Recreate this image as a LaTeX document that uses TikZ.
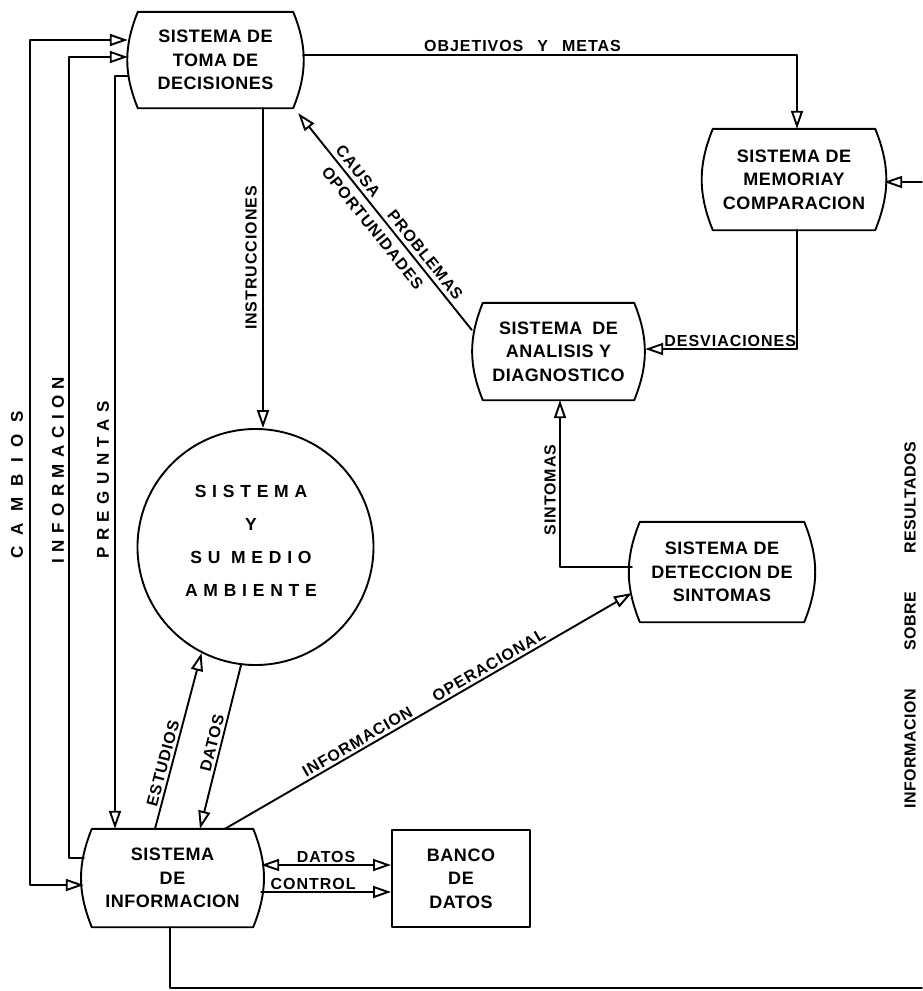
\documentclass[tikz,border=0pt]{standalone}
\usepackage{fontspec}
\setmainfont{Liberation Sans}
\newfontfamily\boxfont{Liberation Sans}[LetterSpace=3]
\newfontfamily\lblfont{Liberation Sans}[LetterSpace=6]
\newfontfamily\ringfont{Liberation Sans}[LetterSpace=33]
\newfontfamily\sidefont{Liberation Sans}[LetterSpace=38]
\newfontfamily\widefont{Liberation Sans}[LetterSpace=66]
\newfontfamily\rightfont{Liberation Sans}[LetterSpace=3]
\usetikzlibrary{arrows.meta}

\tikzset{
  conn/.style={line width=1.9pt, line cap=round, line join=round},
  tip/.tip={Triangle[open, length=18pt, width=12pt]},
  arr/.style={conn, -tip},
  arrboth/.style={conn, tip-tip},
  barrel/.style={rectangle, inner sep=0pt, align=center,
    font=\boxfont\bfseries\fontsize{18}{23.5}\selectfont},
  outline/.style={line width=1.9pt, line cap=round, line join=round},
  lbl/.style={font=\lblfont\bfseries\fontsize{16}{18}\selectfont, inner sep=2.5pt},
  sidelbl/.style={font=\sidefont\bfseries\fontsize{17}{18}\selectfont, rotate=90, inner sep=0pt},
}

% box with straight top and bottom and sides bulging outwards
\newcommand\barrelline[2]{%
  \draw[outline] ([xshift=#2]#1.north west) -- ([xshift=-#2]#1.north east)
    to[bend left=22] ([xshift=-#2]#1.south east) -- ([xshift=#2]#1.south west)
    to[bend left=22] ([xshift=#2]#1.north west) -- cycle;}

\begin{document}
\begin{tikzpicture}[x=1pt, y=-1pt]
\useasboundingbox (0,0) rectangle (922,991);

% ---- systems
\node[barrel, minimum width=175pt, minimum height=96pt] (toma) at (215.5,60)
  {SISTEMA DE\\TOMA DE\\DECISIONES};
\barrelline{toma}{10}

\node[barrel, minimum width=180pt, minimum height=101pt] (memoria) at (794,179.5)
  {SISTEMA DE\\MEMORIAY\\COMPARACION};
\barrelline{memoria}{9}

\node[barrel, minimum width=173pt, minimum height=97pt] (analisis) at (558.5,351.5)
  {SISTEMA\hspace{10pt}DE\\ANALISIS Y\\DIAGNOSTICO};
\barrelline{analisis}{11}

\node[barrel, minimum width=180pt, minimum height=100pt] (det) at (722,572)
  {SISTEMA DE\\DETECCION DE\\SINTOMAS};
\barrelline{det}{8}

\node[barrel, minimum width=177pt, minimum height=98pt] (info) at (172.5,878)
  {SISTEMA\\DE\\INFORMACION};
\barrelline{info}{8}

\node[barrel, draw, outline, minimum width=138pt, minimum height=97pt] (banco) at (461,878.5)
  {BANCO\\DE\\DATOS};

\node[circle, draw, outline, minimum size=236pt, inner sep=0pt] (circ) at (255.5,547) {};
\node[align=center, font=\ringfont\bfseries\fontsize{17.5}{33}\selectfont] (circtext)
  at (251,541) {SISTEMA\\Y\\SU MEDIO\\AMBIENTE};

% ---- free ends at the right border
\coordinate (rin) at (922,182);
\coordinate (rout) at (922,988);

% ---- flows
\draw[arr] ([yshift=5]toma.east) -| ([xshift=3]memoria.north)
  node[lbl, pos=0.222, above] {OBJETIVOS\hspace{14pt}Y\hspace{14pt}METAS};

\draw[arr] ([xshift=3]memoria.south) |- ([yshift=2.5]analisis.east)
  node[lbl, pos=0.72, above, inner sep=1.5pt] {DESVIACIONES};

\draw[arr] (rin) -- (rin -| memoria.east);
\draw[conn] ([xshift=-2.5]info.south) |- (rout);

\draw[arr] ([yshift=21.5]analisis.west) -- ([xshift=-5,yshift=-5]toma.south east)
  node[lbl, sloped, pos=0.465, above, inner sep=4pt] {CAUSA\hspace{22pt}PROBLEMAS}
  node[lbl, sloped, pos=0.51, below, inner sep=7pt] {OPORTUNIDADES};

\draw[arr] ([xshift=47.5]toma.south) -- ([xshift=47.5]toma.south |- circ.north);
\node[lbl, font=\lblfont\bfseries\fontsize{16}{18}\selectfont, rotate=90] at (251,258) {INSTRUCCIONES};

\draw[arr] ([xshift=-17.5]info.north) -- (circ.243)
  node[lbl, sloped, pos=0.36, above] {ESTUDIOS};
\draw[arr] (circ.263) -- ([xshift=27.5]info.north)
  node[lbl, sloped, pos=0.49, above] {DATOS};

\draw[arr] ([xshift=52.5]info.north) -- ([yshift=-21]det.west)
  node[lbl, sloped, pos=0.5, above] {INFORMACION\hspace{26pt}OPERACIONAL};

\draw[arr] ([yshift=5]det.west) -| ([xshift=1.5]analisis.south);
\node[lbl, rotate=90] at (550,490) {SINTOMAS};

\draw[arr] ([yshift=-16]toma.west) -| ([xshift=-57.5]info.north);
\node[sidelbl] at (103,480) {PREGUNTAS};

\draw[arr] ([yshift=20]info.west) -- ++(-15,0) |- ([yshift=3]toma.west);
\node[sidelbl] at (58,470) {INFORMACION};

\draw[arrboth] ([yshift=20]toma.west) -- ++(-98,0) |- ([yshift=-7]info.west);
\node[sidelbl, font=\widefont\bfseries\fontsize{17}{18}\selectfont] at (17,485) {CAMBIOS};

\draw[arrboth] ([yshift=13]info.east) -- ([yshift=13]info.east -| banco.west)
  node[lbl, midway, above, inner sep=1.5pt] {DATOS};
\draw[arr] ([yshift=-14]info.east) -- ([yshift=-14]info.east -| banco.west)
  node[lbl, midway, above, inner sep=1.5pt, xshift=-13pt] {CONTROL};

\node[font=\rightfont\bfseries\fontsize{16}{18}\selectfont, rotate=90] (result) at (910,625)
  {INFORMACION\hspace{38pt}SOBRE\hspace{38pt}RESULTADOS};
\end{tikzpicture}
\end{document}
